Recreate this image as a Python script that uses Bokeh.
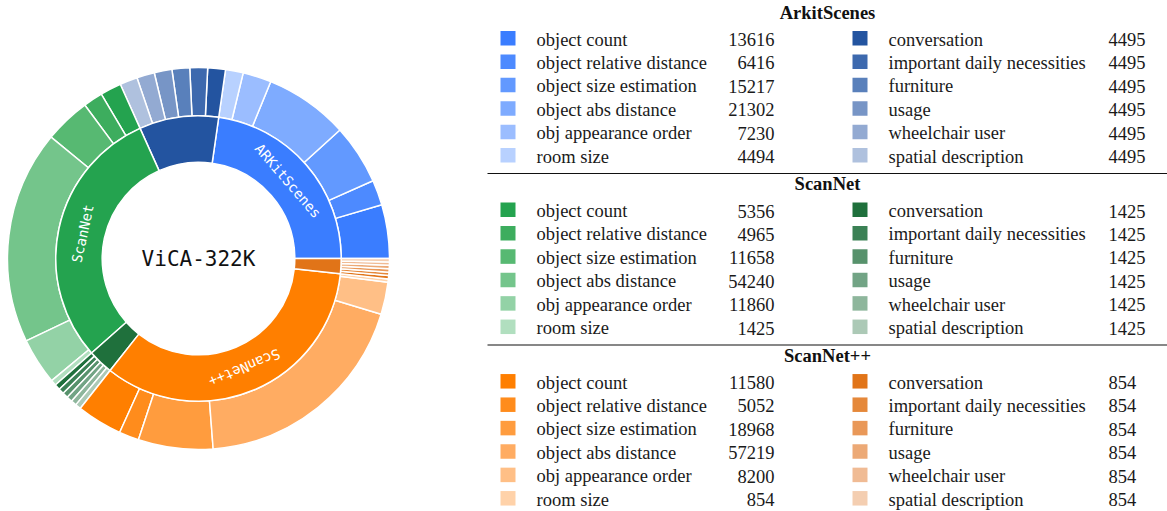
import numpy as np
from bokeh.plotting import figure
from bokeh.models import Range1d
from bokeh.core.properties import value
from bokeh.embed import file_html
from bokeh.resources import INLINE

# ---------------- data ----------------
datasets = ["ARKitScenes", "ScanNet", "ScanNet++"]
legend_titles = ["ArkitScenes", "ScanNet", "ScanNet++"]
center_label = "ViCA-322K"
tasks = ["object count", "object relative distance", "object size estimation",
         "object abs distance", "obj appearance order", "room size",
         "conversation", "important daily necessities", "furniture",
         "usage", "wheelchair user", "spatial description"]
arkit_counts = [13616, 6416, 15217, 21302, 7230, 4494,
                4495, 4495, 4495, 4495, 4495, 4495]
scannet_counts = [5356, 4965, 11658, 54240, 11860, 1425,
                  1425, 1425, 1425, 1425, 1425, 1425]
scannetpp_counts = [11580, 5052, 18968, 57219, 8200, 854,
                    854, 854, 854, 854, 854, 854]
arkit_colors = ["#3a7dff", "#4d8aff", "#6299ff", "#7eabff", "#9bbdff", "#b8d1ff",
                "#2354a0", "#3d69ae", "#5980bb", "#7795c6", "#93aad2", "#afc1de"]
scannet_colors = ["#24a34f", "#3dad5e", "#57b972", "#74c58b", "#93d2a6", "#b1dfbf",
                  "#1f703c", "#3b8155", "#57926c", "#72a485", "#8eb69c", "#acc9b6"]
scannetpp_colors = ["#ff7f00", "#ff8c1c", "#ff9c3e", "#ffac62", "#ffbf86", "#ffd2a9",
                    "#e17418", "#e5883a", "#e99858", "#eca976", "#f0bb94", "#f4ceb1"]

all_counts = [arkit_counts, scannet_counts, scannetpp_counts]
all_colors = [arkit_colors, scannet_colors, scannetpp_colors]

# ---------------- figure ----------------
W, H = 1167, 511
p = figure(width=W, height=H, output_backend="svg", toolbar_location=None,
           x_range=Range1d(0, W), y_range=Range1d(0, H),
           x_axis_location=None, y_axis_location=None, min_border=0)
p.grid.visible = False
p.outline_line_color = None
p.background_fill_color = "white"
p.border_fill_color = "white"


def Y(page_y):
    return H - page_y


cx, cy = 198, Y(258)
r0, r1, r2 = 96.3, 142.7, 191.0

total = float(sum(sum(c) for c in all_counts))
k = 2 * np.pi / total

# outer ring
outer_vals = np.concatenate([np.array(c, float) for c in all_counts])
outer_cols = sum(all_colors, [])
ends = np.cumsum(outer_vals) * k
starts = ends - outer_vals * k
p.annular_wedge(x=cx, y=cy, inner_radius=r1, outer_radius=r2,
                start_angle=starts, end_angle=ends, fill_color=outer_cols,
                line_color="white", line_width=1.5)

# inner ring
inner_vals, inner_cols = [], []
for c, col in zip(all_counts, all_colors):
    inner_vals += [sum(c[:6]), sum(c[6:])]
    inner_cols += [col[0], col[6]]
inner_vals = np.array(inner_vals, float)
iends = np.cumsum(inner_vals) * k
istarts = iends - inner_vals * k
p.annular_wedge(x=cx, y=cy, inner_radius=r0, outer_radius=r1,
                start_angle=istarts, end_angle=iends, fill_color=inner_cols,
                line_color="white", line_width=1.5)

# dataset labels on main segments
mids = (istarts[::2] + iends[::2]) / 2
rt = 118.5
p.text(x=cx + rt * np.cos(mids), y=cy + rt * np.sin(mids), text=datasets,
       angle=mids - np.pi / 2, text_align="center", text_baseline="middle",
       text_font=value("DejaVu Sans Mono"), text_font_size="14px",
       text_color="white")

p.text(x=[cx], y=[cy], text=[center_label], text_align="center",
       text_baseline="middle", text_font=value("DejaVu Sans Mono"),
       text_font_size="21px", text_color="#111111")

# ---------------- legend tables ----------------
serif = value("Liberation Serif")
block_pitch = 171.5
row_pitch = 23.4
for g in range(3):
    hy = 12 + g * block_pitch
    p.text(x=[827], y=[Y(hy)], text=[legend_titles[g]], text_align="center",
           text_baseline="middle", text_font=serif, text_font_size="18.5px",
           text_font_style="bold", text_color="#111111")
    rows_y = np.array([Y(hy + 27 + i * row_pitch) for i in range(6)])
    counts = all_counts[g]
    cols = all_colors[g]
    # left column (first 6 tasks)
    p.rect(x=507.5, y=rows_y + 1.2, width=15, height=14.5, fill_color=cols[:6],
           line_color=None)
    p.text(x=536, y=rows_y, text=tasks[:6], text_align="left",
           text_baseline="middle", text_font=serif, text_font_size="18.5px",
           text_color="#1a1a1a")
    p.text(x=774, y=rows_y, text=[str(v) for v in counts[:6]], text_align="right",
           text_baseline="middle", text_font=serif, text_font_size="18.5px",
           text_color="#1a1a1a")
    # right column (last 6 tasks)
    p.rect(x=859.5, y=rows_y + 1.2, width=15, height=14.5, fill_color=cols[6:],
           line_color=None)
    p.text(x=888, y=rows_y, text=tasks[6:], text_align="left",
           text_baseline="middle", text_font=serif, text_font_size="18.5px",
           text_color="#1a1a1a")
    p.text(x=1108, y=rows_y, text=[str(v) for v in counts[6:]], text_align="left",
           text_baseline="middle", text_font=serif, text_font_size="18.5px",
           text_color="#1a1a1a")
    if g < 2:
        ly = Y(hy + 161)
        p.segment(x0=[487], y0=[ly], x1=[W], y1=[ly], line_color="#111111",
                  line_width=1.2)

open("out.html", "w").write(file_html(p, INLINE))
